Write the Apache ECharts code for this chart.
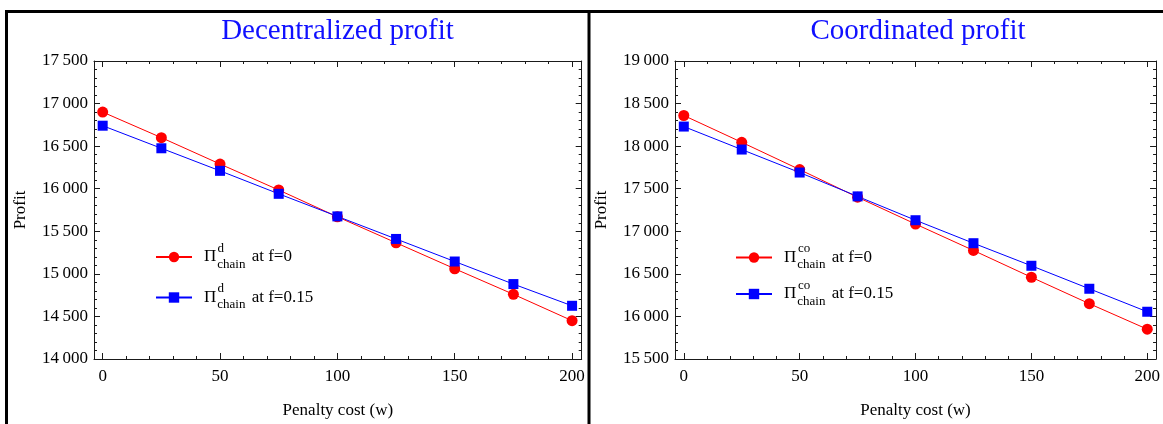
<!DOCTYPE html>
<html><head><meta charset="utf-8">
<script src="https://cdn.jsdelivr.net/npm/echarts@6/dist/echarts.min.js"></script>
<style>html,body{margin:0;padding:0;background:#fff}#c{width:1163px;height:424px}</style>
</head><body><div id="c"></div>
<script>
// ---- data ----
const penaltyCost = [0, 25, 50, 75, 100, 125, 150, 175, 200];
const decentralizedF0   = [16900, 16600, 16290, 15985, 15670, 15365, 15060, 14760, 14450];
const decentralizedF015 = [16740, 16475, 16210, 15940, 15675, 15410, 15145, 14880, 14625];
const coordinatedF0     = [18360, 18045, 17725, 17400, 17085, 16775, 16460, 16150, 15850];
const coordinatedF015   = [18230, 17960, 17690, 17410, 17130, 16860, 16595, 16325, 16055];
const xMajorTicks = [0, 50, 100, 150, 200];
const xMinorTicks = [0, 10, 20, 30, 40, 50, 60, 70, 80, 90, 100, 110, 120, 130, 140, 150, 160, 170, 180, 190, 200];
const decentralizedYTicks = [14000, 14500, 15000, 15500, 16000, 16500, 17000, 17500];
const coordinatedYTicks   = [15500, 16000, 16500, 17000, 17500, 18000, 18500, 19000];
const panelTitles = ['Decentralized profit', 'Coordinated profit'];
const superscripts = ['d', 'co'];
const seriesLabels = ['at f=0', 'at f=0.15'];
const xAxisName = 'Penalty cost (w)';
const yAxisName = 'Profit';

// ---- style ----
const FONT = '"Liberation Serif", "Times New Roman", serif';
const RED = '#ff0000', BLUE = '#0000ff', AXIS = '#1a1a1a';

const panels = [
  { left: 94, width: 487.7, xMin: -3.7, xMax: 204.1, yTicks: decentralizedYTicks,
    f0: decentralizedF0, f15: decentralizedF015, titleX: 337.5,
    legendLeft: 155, legendTop: 248.5, legendGap: 18, supX: 217.5, supY: [248.5, 288.5] },
  { left: 675, width: 486.7, xMin: -3.8, xMax: 203.8, yTicks: coordinatedYTicks,
    f0: coordinatedF0, f15: coordinatedF015, titleX: 918,
    legendLeft: 735, legendTop: 249, legendGap: 14, supX: 798, supY: [249, 285.5] }
];

const fmt = v => {
  const s = String(Math.round(v));
  return s.length > 3 ? s.slice(0, s.length - 3) + '\u2009' + s.slice(s.length - 3) : s;
};

const grid = [], xAxis = [], yAxis = [], series = [], legend = [], graphic = [];

panels.forEach((p, i) => {
  grid.push({ left: p.left, top: 61, width: p.width, height: 300.7, containLabel: false });
  const baseX = { type: 'value', gridIndex: i, min: p.xMin, max: p.xMax, splitLine: { show: false } };
  // bottom major with labels
  xAxis.push(Object.assign({}, baseX, {
    position: 'bottom',
    axisLine: { show: true, onZero: false, lineStyle: { color: AXIS, width: 1 } },
    axisTick: { show: true, inside: true, length: 6, customValues: xMajorTicks, lineStyle: { color: AXIS } },
    axisLabel: { show: true, customValues: xMajorTicks, margin: 9, color: '#000', fontFamily: FONT, fontSize: 17 },
    name: xAxisName, nameLocation: 'middle', nameGap: 43,
    nameTextStyle: { color: '#000', fontFamily: FONT, fontSize: 17 }
  }));
  // bottom minor
  xAxis.push(Object.assign({}, baseX, {
    position: 'bottom', axisLine: { show: false, onZero: false },
    axisTick: { show: true, inside: true, length: 3, customValues: xMinorTicks, lineStyle: { color: AXIS } },
    axisLabel: { show: false }
  }));
  // top major
  xAxis.push(Object.assign({}, baseX, {
    position: 'top',
    axisLine: { show: true, onZero: false, lineStyle: { color: AXIS, width: 1 } },
    axisTick: { show: true, inside: true, length: 6, customValues: xMajorTicks, lineStyle: { color: AXIS } },
    axisLabel: { show: false }
  }));
  // top minor
  xAxis.push(Object.assign({}, baseX, {
    position: 'top', axisLine: { show: false, onZero: false },
    axisTick: { show: true, inside: true, length: 3, customValues: xMinorTicks, lineStyle: { color: AXIS } },
    axisLabel: { show: false }
  }));
  const baseY = { type: 'value', gridIndex: i, min: p.yTicks[0], max: p.yTicks[p.yTicks.length - 1],
    interval: p.yTicks[1] - p.yTicks[0], splitLine: { show: false },
    axisLine: { show: true, onZero: false, lineStyle: { color: AXIS, width: 1 } },
    axisTick: { show: true, inside: true, length: 6, lineStyle: { color: AXIS } },
    minorTick: { show: true, splitNumber: 5, length: 3, lineStyle: { color: AXIS } } };
  yAxis.push(Object.assign({}, baseY, {
    position: 'left',
    axisLabel: { show: true, margin: 6, color: '#000', fontFamily: FONT, fontSize: 17, formatter: fmt },
    name: yAxisName, nameLocation: 'middle', nameGap: 65, nameRotate: 90,
    nameTextStyle: { color: '#000', fontFamily: FONT, fontSize: 17 }
  }));
  yAxis.push(Object.assign({}, baseY, { position: 'right', axisLabel: { show: false } }));

  const n0 = 'p' + i + 'f0', n15 = 'p' + i + 'f15';
  series.push({
    type: 'line', name: n0, xAxisIndex: i * 4, yAxisIndex: i * 2,
    data: penaltyCost.map((w, k) => [w, p.f0[k]]),
    symbol: 'circle', symbolSize: 11, lineStyle: { color: RED, width: 1 }, itemStyle: { color: RED },
    silent: true
  });
  series.push({
    type: 'line', name: n15, xAxisIndex: i * 4, yAxisIndex: i * 2,
    data: penaltyCost.map((w, k) => [w, p.f15[k]]),
    symbol: 'rect', symbolSize: 10, lineStyle: { color: BLUE, width: 1 }, itemStyle: { color: BLUE },
    silent: true
  });
  legend.push({
    data: [n0, n15], orient: 'vertical', left: p.legendLeft, top: p.legendTop, padding: 0,
    itemWidth: 36, itemHeight: 13, itemGap: p.legendGap, selectedMode: false,
    formatter: name => '{pi|\u03A0}{sub|chain}{t| ' + (name === n0 ? seriesLabels[0] : seriesLabels[1]) + '}',
    textStyle: {
      color: '#000', fontFamily: FONT, fontSize: 17,
      rich: {
        pi: { fontFamily: FONT, fontSize: 17, color: '#000', padding: [0, 1, 0, 7], lineHeight: 28, verticalAlign: 'middle' },
        sub: { fontFamily: FONT, fontSize: 13, color: '#000', padding: [0, 2, 0, 0], lineHeight: 28, verticalAlign: 'bottom' },
        t: { fontFamily: FONT, fontSize: 17, color: '#000', lineHeight: 28, verticalAlign: 'middle' }
      }
    }
  });
  graphic.push({ type: 'text', x: p.titleX, y: 31.5, silent: true,
    style: { text: panelTitles[i], fill: '#1010ff', font: '29px ' + FONT, align: 'center', verticalAlign: 'middle' } });
  p.supY.forEach(y => graphic.push({ type: 'text', x: p.supX, y: y, silent: true,
    style: { text: superscripts[i], fill: '#000', font: '13px ' + FONT, align: 'left', verticalAlign: 'middle' } }));
});

// panel frames
graphic.push({ type: 'rect', shape: { x: 5, y: 10, width: 1158, height: 3 }, style: { fill: '#000' }, silent: true });
graphic.push({ type: 'rect', shape: { x: 5, y: 10, width: 3, height: 414 }, style: { fill: '#000' }, silent: true });
graphic.push({ type: 'rect', shape: { x: 587.5, y: 10, width: 3, height: 414 }, style: { fill: '#000' }, silent: true });

const chart = echarts.init(document.getElementById('c'), null, { renderer: 'canvas' });
chart.setOption({ backgroundColor: '#fff', animation: false, grid, xAxis, yAxis, series, legend, graphic });
</script></body></html>
